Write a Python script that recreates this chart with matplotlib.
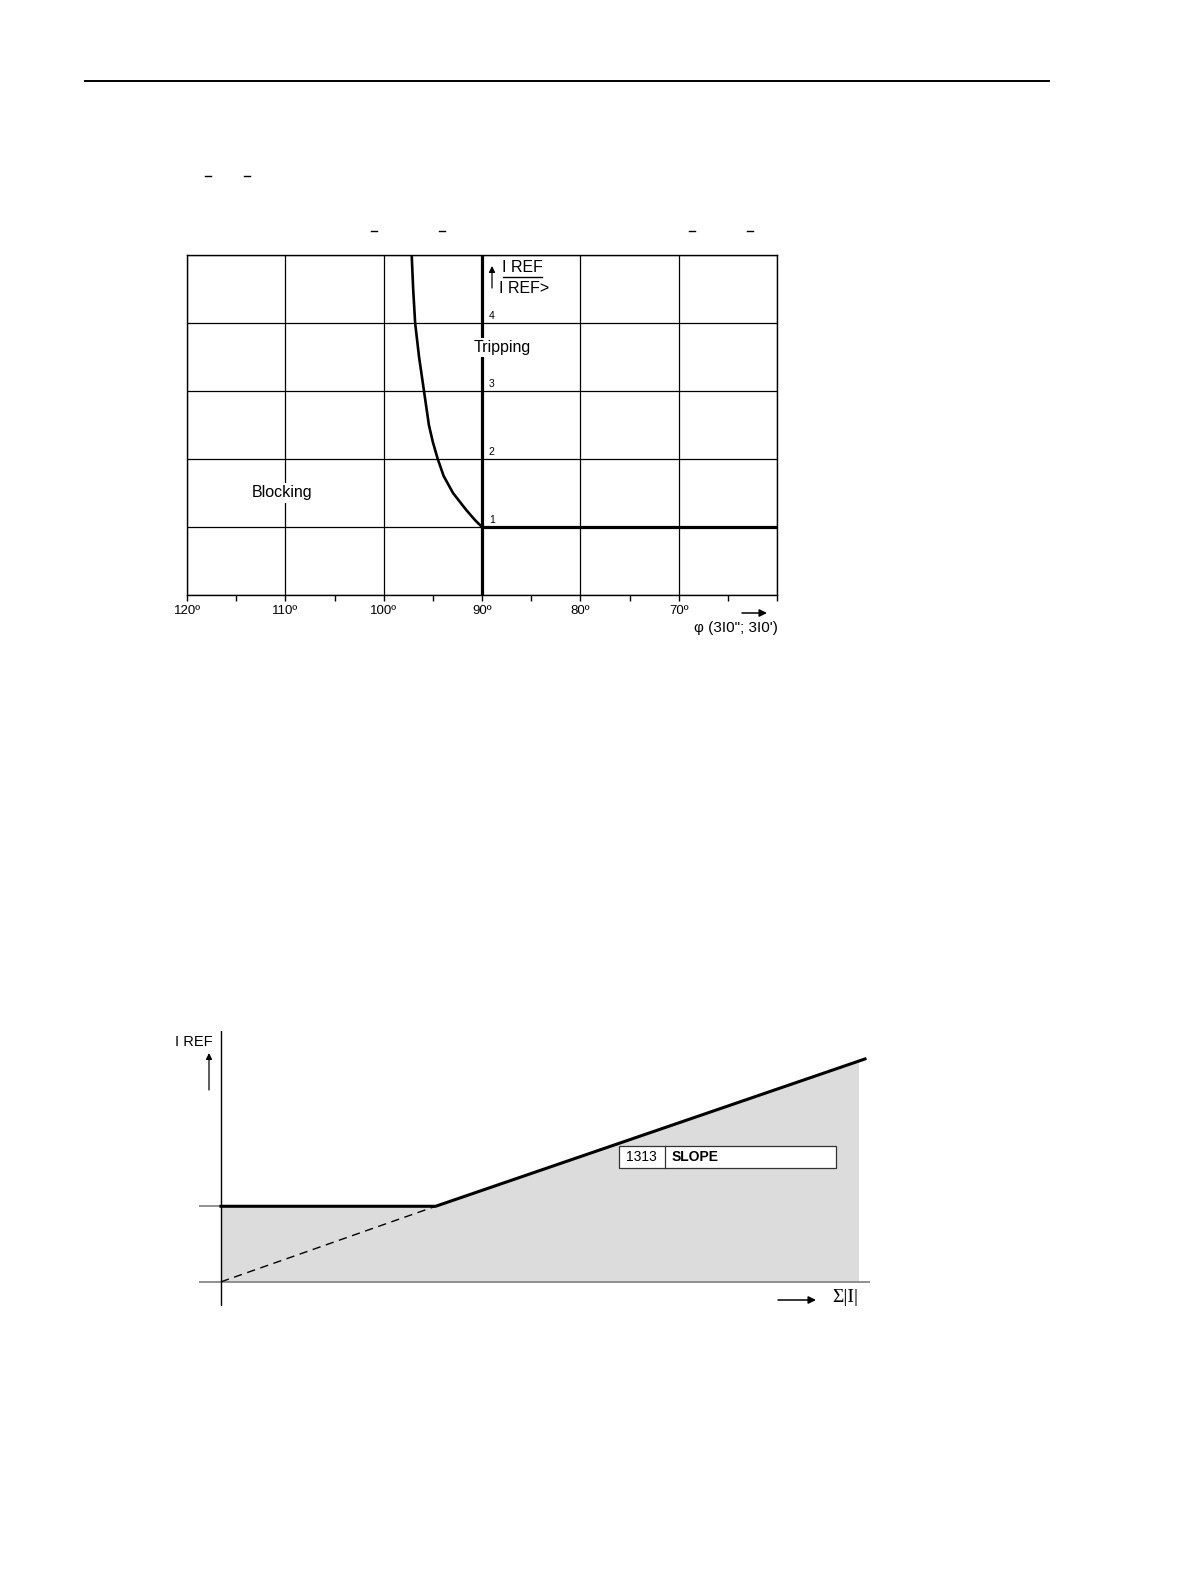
"""
Kennlinien des Erdfehler-Differentialschutzes (I REF):
  oben  - Ausloesekennlinie abhaengig vom Winkel phi(3I0''; 3I0')
  unten - Stabilisierung mit Steigung (Parameter 1313 SLOPE)
"""

import matplotlib
matplotlib.use("Agg")
import matplotlib.pyplot as plt
from matplotlib.lines import Line2D
from matplotlib.patches import Rectangle

W, H = 1191, 1587

# ── Daten oben: Winkelkennlinie ─────────────────────────────
phi_ticks = [120, 110, 100, 90, 80, 70, 60]
phi_tick_labels = ["120º", "110º", "100º", "90º", "80º", "70º", ""]
phi_minor = [115, 105, 95, 85, 75, 65]
ratio_ticks = [1, 2, 3, 4]

boundary_phi = [90.0, 90.7, 91.6, 92.95, 93.9, 94.5, 95.0, 95.4, 95.9,
                96.4, 96.8, 97.0, 97.15]
boundary_ratio = [1.0, 1.1, 1.25, 1.5, 1.75, 2.0, 2.25, 2.5, 3.0,
                  3.5, 4.0, 4.5, 5.0]
trip_phi = [90, 60]
trip_ratio = [1, 1]

# ── Daten unten: Stabilisierung ─────────────────────────────
sum_i = [0.0, 3.0, 9.0]
i_ref_char = [1.0, 1.0, 2.95]
sum_i_ext = [0.0, 3.0]
i_ref_ext = [0.0, 1.0]
i_ref_threshold = 1.0
shade_end = 8.9


def fx(px):
    return px / W


def fy(py):
    return 1 - py / H


def pfeil(ax, x0, y0, x1, y1, lw=1.0, ms=10):
    ax.annotate("", xy=(fx(x1), fy(y1)), xytext=(fx(x0), fy(y0)),
                xycoords="figure fraction", textcoords="figure fraction",
                arrowprops=dict(arrowstyle="-|>", color="black", lw=lw,
                                mutation_scale=ms, shrinkA=0, shrinkB=0))


plt.rcParams["font.family"] = ["Liberation Sans", "DejaVu Sans"]

fig = plt.figure(figsize=(W / 100, H / 100), dpi=100)
fig.patch.set_facecolor("white")

# Seitenlinie oben
fig.add_artist(Line2D([fx(85), fx(1049)], [fy(81), fy(81)], color="black", lw=1.4))

# kleine Striche (Reste von Vektorsymbolen im Text)
for xs, ys in [((205, 211), 176), ((244, 250), 176), ((371, 377), 231),
               ((439, 445), 231), ((689, 695), 231), ((747, 753), 231)]:
    fig.add_artist(Line2D([fx(xs[0]), fx(xs[1])], [fy(ys), fy(ys)],
                          color="black", lw=1.0))

# ── Diagramm oben ───────────────────────────────────────────
ax1 = fig.add_axes([fx(187), fy(595), fx(777) - fx(187), fy(255) - fy(595)])
ax1.set_xlim(120, 60)
ax1.set_ylim(0, 5)
ax1.set_xticks(phi_ticks)
ax1.set_xticklabels(phi_tick_labels, fontsize=9.5)
ax1.set_xticks(phi_minor, minor=True)
ax1.set_yticks([0] + ratio_ticks + [5])
ax1.set_yticklabels([])
ax1.tick_params(axis="x", which="both", direction="out", length=4, width=1,
                pad=3.5, color="black")
ax1.tick_params(axis="y", length=0)
ax1.grid(True, which="major", color="black", lw=0.9)
for s in ax1.spines.values():
    s.set_linewidth(1.0)

ax1.axvline(90, color="black", lw=2.3, zorder=3)
ax1.plot(trip_phi, trip_ratio, color="black", lw=2.3, zorder=3)
ax1.plot(boundary_phi, boundary_ratio, color="black", lw=1.9, zorder=3,
         solid_joinstyle="round")

for v in ratio_ticks:
    ax1.text(89.3, v + 0.1, str(v), fontsize=7.5, ha="left", va="center", zorder=4)

ax1.text(87.9, 3.64, "Tripping", fontsize=11.5, ha="center", va="center", zorder=5,
         bbox=dict(facecolor="white", edgecolor="none", pad=1.5))
ax1.text(110.3, 1.5, "Blocking", fontsize=11.5, ha="center", va="center", zorder=5,
         bbox=dict(facecolor="white", edgecolor="none", pad=1.5))

# Bruch I REF / I REF>
fig.text(fx(502), fy(272), "I REF", fontsize=11.5, ha="left", va="baseline")
fig.text(fx(499), fy(293), "I REF>", fontsize=11.5, ha="left", va="baseline")
fig.add_artist(Line2D([fx(503), fx(542)], [fy(277), fy(277)], color="black", lw=1.0))
pfeil(ax1, 492, 288, 492, 266, lw=0.9, ms=9)

# x-Achsenbeschriftung
fig.text(fx(778), fy(628), "φ (3I0\"; 3I0')", fontsize=11, ha="right", va="center")
pfeil(ax1, 742, 613, 767, 613, lw=1.1, ms=11)

# ── Diagramm unten ──────────────────────────────────────────
ax2 = fig.add_axes([fx(199), fy(1306), fx(870) - fx(199), fy(1031) - fy(1306)])
ax2.set_xlim(-0.307, 9.07)
ax2.set_ylim(-0.32, 3.32)
ax2.axis("off")

shade = ax2.fill_between(sum_i, 0, i_ref_char, color="#dcdcdc", lw=0, zorder=1)
shade.set_clip_path(Rectangle((0, 0), shade_end, 4, transform=ax2.transData))

ax2.axhline(0, color="#888888", lw=1.3, zorder=2)
ax2.plot([ax2.get_xlim()[0], 0], [i_ref_threshold, i_ref_threshold],
         color="#888888", lw=1.3, zorder=2)
ax2.axvline(0, color="black", lw=1.0, zorder=3)
ax2.plot(sum_i_ext, i_ref_ext, color="black", lw=1.0, ls=(0, (6, 4)), zorder=3)
ax2.plot(sum_i, i_ref_char, color="black", lw=2.2, zorder=4,
         solid_joinstyle="miter")

# Parameterkasten 1313 SLOPE
box_x0, box_x1, box_div = 5.56, 8.59, 6.20
box_y0, box_y1 = 1.51, 1.80
ax2.add_patch(Rectangle((box_x0, box_y0), box_x1 - box_x0, box_y1 - box_y0,
                        facecolor="white", edgecolor="#333333", lw=0.9, zorder=5))
ax2.plot([box_div, box_div], [box_y0, box_y1], color="#333333", lw=0.9, zorder=6)
ax2.text((box_x0 + box_div) / 2, (box_y0 + box_y1) / 2, "1313", fontsize=10,
         ha="center", va="center", zorder=6)
ax2.text(box_div + 0.1, (box_y0 + box_y1) / 2, "SLOPE", fontsize=10,
         fontweight="bold", ha="left", va="center", zorder=6)

# Achsenbeschriftungen unten
fig.text(fx(194), fy(1042), "I REF", fontsize=10.5, ha="center", va="center")
pfeil(ax2, 209, 1090, 209, 1053, lw=0.9, ms=9)
pfeil(ax2, 778, 1300, 816, 1300, lw=1.1, ms=11)
fig.text(fx(845), fy(1298), "Σ|I|", fontsize=14, ha="center", va="center",
         family=["Liberation Serif", "DejaVu Serif"])

fig.savefig("out.png", dpi=100, facecolor="white")
plt.close(fig)
